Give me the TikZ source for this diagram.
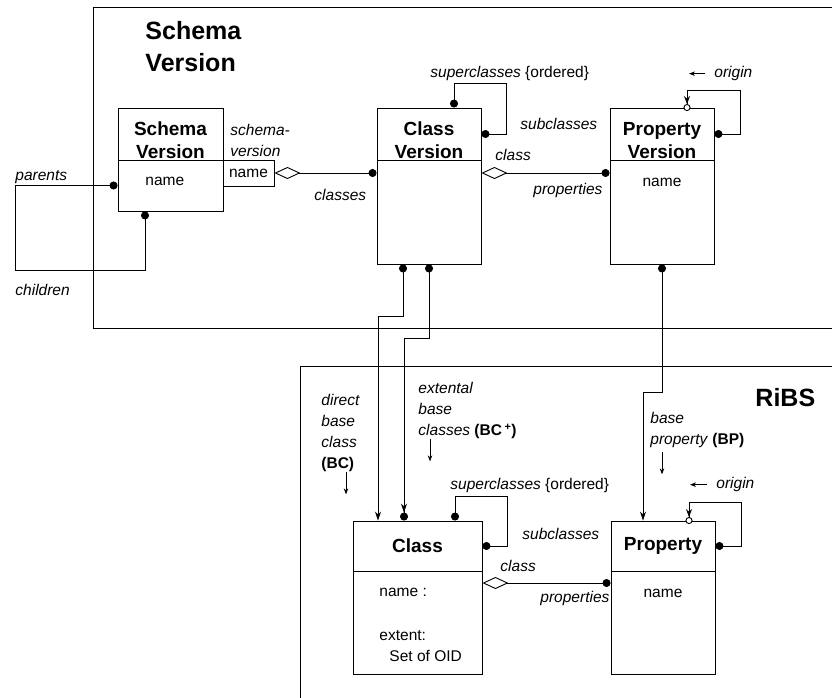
\documentclass[tikz,border=0pt]{standalone}
\usepackage{fontspec}
\setmainfont{Liberation Sans}
\usetikzlibrary{arrows.meta}
\begin{document}
\begin{tikzpicture}[x=1pt,y=-1pt,line width=0.9pt,
  hdrbox/.style={draw,inner sep=0pt},
  hdrtxt/.style={inner sep=0pt,align=center,font=\bfseries\fontsize{19}{23}\selectfont},
  bdy/.style={draw,inner sep=0pt},
  lbl/.style={inner sep=0pt,anchor=north west,align=left,font=\itshape\fontsize{15.5}{21}\selectfont},
  txt/.style={inner sep=0pt,align=left,font=\fontsize{15.5}{21}\selectfont},
  ttl/.style={inner sep=0pt,anchor=north west,align=left,font=\bfseries\fontsize{25}{32}\selectfont},
  bb/.style={arrows={Circle[length=8pt]-Circle[length=8pt]}},
  agg/.style={arrows={Diamond[length=26pt,width=12pt,fill=white]-Circle[length=8pt]}},
  inh/.style={arrows={Circle[length=8pt]-Stealth[length=9pt,width=6pt]}},
  inhb/.style={arrows={Circle[length=8pt]-{Stealth[length=9pt,width=6pt] Circle[length=8pt]}}},
  orig/.style={arrows={Circle[length=8pt]-{Stealth[length=8pt,width=6pt] Circle[length=7pt,fill=white]}},shorten >=-3.5pt},
  labarr/.style={arrows={-Stealth[length=6pt,width=4.5pt]},line width=0.7pt}
]
\useasboundingbox (0,0) rectangle (832,698);

% frames
\draw (832,7) -- (93,7) -- (93,328) -- (832,328);
\draw (832,366) -- (300,366) -- (300,698);

% titles
\node[ttl] (t1) at (145,20.5) {Schema\\Version};
\node[ttl] (t2) at (755,388) {RiBS};

% Schema Version class
\node[hdrbox,minimum width=105pt,minimum height=52pt] (svh) at (170.5,134) {};
\node[hdrtxt] (svht) at ([yshift=-6.5pt]svh.center) {Schema\\Version};
\node[bdy,minimum width=105pt,minimum height=51pt] (svb) at (170.5,185.5) {};
\node[txt,anchor=north west] (svn) at (145,177) {name};
\node[draw,txt,align=center,minimum width=51pt,minimum height=26pt] (nm) at (248.5,173) {name};

% Class Version
\node[hdrbox,minimum width=104pt,minimum height=52pt] (cvh) at (429,134) {};
\node[hdrtxt] (cvht) at ([yshift=-6.5pt]cvh.center) {Class\\Version};
\node[bdy,minimum width=104pt,minimum height=104pt] (cvb) at (429,212) {};

% Property Version
\node[hdrbox,minimum width=104pt,minimum height=52pt] (pvh) at (662,134) {};
\node[hdrtxt] (pvht) at ([yshift=-6.5pt]pvh.center) {Property\\Version};
\node[bdy,minimum width=104pt,minimum height=104pt] (pvb) at (662,212) {};
\node[txt,anchor=north] (pvn) at (662,178) {name};

% Class
\node[hdrbox,minimum width=129pt,minimum height=50pt] (ch) at (417.5,546) {};
\node[hdrtxt] (cht) at (ch.center) {Class};
\node[bdy,minimum width=129pt,minimum height=103pt] (cb) at (417.5,622.5) {};
\node[txt,anchor=north west] (cn) at (379,588) {name :\\[23pt]extent:\\\hspace*{10pt}Set of OID};

% Property
\node[hdrbox,minimum width=104pt,minimum height=50pt] (ph) at (663,546) {};
\node[hdrtxt] (pht) at (ph.center) {Property};
\node[bdy,minimum width=104pt,minimum height=103pt] (pb) at (663,622.5) {};
\node[txt,anchor=north] (pn) at (663,589) {name};

% labels
\node[lbl] (lpar) at (15,170) {parents};
\node[lbl] (lchi) at (15,284) {children};
\node[lbl] (lsv) at (230,124) {schema-\\version};
\node[lbl] (lcls) at (314,189) {classes};
\node[lbl] (lsup1) at (430,66) {superclasses \textup{\{ordered\}}};
\node[lbl] (lsub1) at (520,118) {subclasses};
\node[lbl] (lcl1) at (495,149) {class};
\node[lbl] (lpr1) at (533,183) {properties};
\node[lbl] (lor1) at (714,66) {origin};
\node[lbl] (lsup2) at (450,478) {superclasses \textup{\{ordered\}}};
\node[lbl] (lsub2) at (522,528) {subclasses};
\node[lbl] (lcl2) at (500,560) {class};
\node[lbl] (lpr2) at (540,591) {properties};
\node[lbl] (lor2) at (716,477) {origin};
\node[lbl] (lbc) at (321,394) {direct\\base\\class\\\textup{\textbf{(BC)}}};
\node[lbl] (lbcp) at (418,382) {extental\\base\\classes \textup{\textbf{(BC\,\textsuperscript{+})}}};
\node[lbl] (lbp) at (650,412) {base\\property \textup{\textbf{(BP)}}};

% label arrows
\draw[labarr] ([shift={(25,0)}]lbc.south west) -- ++(0,22);
\draw[labarr] ([shift={(12,0)}]lbcp.south west) -- ++(0,22);
\draw[labarr] ([shift={(12,4)}]lbp.south west) -- ++(0,22);
\draw[labarr] ([xshift=-9pt]lor1.west) -- ++(-16,0);
\draw[labarr] ([xshift=-9pt]lor2.west) -- ++(-17,0);

% connectors
\draw[bb] (svb.west) -| (15,270) -| ([xshift=-25.5pt]svb.south);
\draw[agg] (nm.east) -- (cvb.west |- nm.east);
\draw[bb] ([xshift=25pt]cvh.north) |- (506,83) |- (cvh.east);
\draw[agg] ([yshift=39pt]cvb.east) -- ([yshift=39pt]pvb.west);
\draw[orig] (pvh.east) -| (740,90) -| ([xshift=25pt]pvh.north);
\draw[inh] ([xshift=-26pt]cvb.south) -- ++(0,52) -| ([xshift=-39.5pt]ch.north);
\draw[inhb] (cvb.south) -- ++(0,74) -| ([xshift=-13.5pt]ch.north);
\draw[inh] (pvb.south) -- ++(0,128) -| ([xshift=-20pt]ph.north);
\draw[bb] ([xshift=37.5pt]ch.north) |- (507,496) |- (ch.east);
\draw[orig] (ph.east) -| (741,502) -| ([xshift=26pt]ph.north);
\draw[agg] ([yshift=39.5pt]cb.east) -- ([yshift=39.5pt]pb.west);
\end{tikzpicture}
\end{document}
